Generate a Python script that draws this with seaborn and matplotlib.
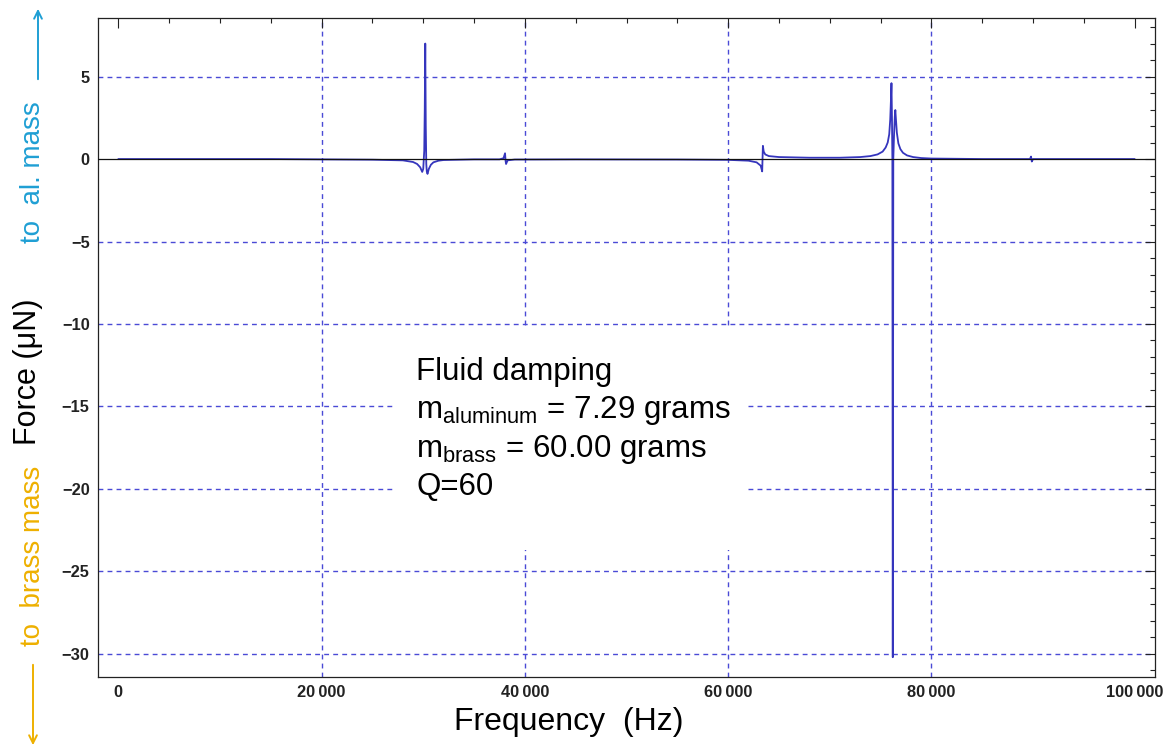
import numpy as np
import pandas as pd
import matplotlib
matplotlib.use("Agg")
import matplotlib.pyplot as plt
from matplotlib.ticker import MultipleLocator, FixedLocator
from matplotlib.patches import Rectangle, FancyArrowPatch
import seaborn as sns

# ---------------- data ----------------
freq_hz = [0, 15000, 20000, 25000, 28000, 29000, 29400, 29700, 29900, 30000,
           30100, 30150, 30200, 30250, 30300, 30350, 30420, 30550, 30750, 31000,
           31500, 32000, 35000, 37500, 37900, 38050, 38100, 38150, 38300, 39000,
           45000, 55000, 60000, 62000, 62800, 63200, 63350, 63420, 63500, 63650,
           64000, 65000, 68000, 71000, 73000, 74000, 74700, 75200, 75500, 75700,
           75850, 75950, 76020, 76070, 76120, 76160, 76200, 76250, 76320, 76400,
           76450, 76500, 76600, 76750, 76950, 77200, 77600, 78200, 79000, 80000,
           85000, 89700, 89800, 89880, 90000, 100000]
force_uN = [0.0, 0.0, -0.02, -0.04, -0.08, -0.18, -0.3, -0.5, -0.78, -0.6,
            0.5, 3.0, 7.0, 2.0, -0.3, -0.75, -0.9, -0.6, -0.35, -0.2,
            -0.1, -0.06, -0.02, -0.02, 0.05, 0.35, -0.1, -0.3, -0.08, -0.03,
            -0.02, -0.03, -0.05, -0.1, -0.2, -0.4, -0.75, 0.8, 0.45, 0.28,
            0.18, 0.12, 0.08, 0.08, 0.12, 0.18, 0.28, 0.45, 0.7, 1.0,
            1.5, 2.4, 3.6, 4.6, 2.5, 0.0, -30.2, 0.0, 1.4, 2.6,
            2.97, 2.5, 1.6, 0.95, 0.6, 0.38, 0.22, 0.12, 0.06, 0.03,
            0.0, 0.0, 0.15, -0.15, 0.0, 0.0]

x_ticks = [0, 20000, 40000, 60000, 80000, 100000]
x_tick_labels = ["0", "20\u2009000", "40\u2009000", "60\u2009000", "80\u2009000", "100\u2009000"]
y_ticks = [5, 0, -5, -10, -15, -20, -25, -30]
y_tick_labels = ["5", "0", "\u22125", "\u221210", "\u221215", "\u221220", "\u221225", "\u221230"]

annotation_lines = ["Fluid damping",
                    r"m$_{\mathrm{aluminum}}$ = 7.29 grams",
                    r"m$_{\mathrm{brass}}$ = 60.00 grams",
                    "Q=60"]

df = pd.DataFrame({"Frequency": freq_hz, "Force": force_uN})

# ---------------- style ----------------
sns.set_theme(style="white")
plt.rcParams["font.family"] = ["Liberation Sans", "DejaVu Sans"]
plt.rcParams["mathtext.fontset"] = "custom"
plt.rcParams["mathtext.rm"] = "Liberation Sans"
plt.rcParams["mathtext.it"] = "Liberation Sans:italic"
plt.rcParams["mathtext.bf"] = "Liberation Sans:bold"

fig = plt.figure(figsize=(11.64, 7.52), dpi=100)
ax = fig.add_axes([98 / 1164, 1 - 677 / 752, 1057 / 1164, 659 / 752])

sns.lineplot(data=df, x="Frequency", y="Force", ax=ax, color="#3535bd",
             linewidth=1.3, estimator=None, sort=False, zorder=3)
ax.axhline(0, color="#111111", linewidth=0.9, zorder=4)

ax.set_xlim(-2000, 102000)
ax.set_ylim(-31.4, 8.55)

ax.xaxis.set_major_locator(FixedLocator(x_ticks))
ax.yaxis.set_major_locator(FixedLocator(y_ticks))
ax.set_xticklabels(x_tick_labels)
ax.set_yticklabels(y_tick_labels)
ax.xaxis.set_minor_locator(MultipleLocator(5000))
ax.yaxis.set_minor_locator(MultipleLocator(1))
ax.tick_params(which="both", direction="in", top=True, right=True,
               colors="#222222", width=0.8)
ax.tick_params(which="major", length=7, labelsize=11.8, pad=6)
ax.tick_params(which="minor", length=3.5)
for lab in ax.get_xticklabels() + ax.get_yticklabels():
    lab.set_fontweight("bold")
    lab.set_color("#222222")

# grid
ax.grid(True, which="major", linestyle=(0, (3.5, 3)), color="#4a4ad6",
        linewidth=1.0)
ax.set_axisbelow(True)
xg = ax.xaxis.get_gridlines()
xg[0].set_visible(False)
xg[-1].set_visible(False)
yg = ax.yaxis.get_gridlines()
yg[1].set_visible(False)

for s in ax.spines.values():
    s.set_color("#222222")
    s.set_linewidth(0.9)

ax.set_xlabel("")
ax.set_ylabel("")

# white inset behind the annotation
x0 = (395 - 98) / 1057
x1 = (745 - 98) / 1057
yt = 1 - (328 - 18) / 659
yb = 1 - (550 - 18) / 659
ax.add_patch(Rectangle((x0, yb), x1 - x0, yt - yb, transform=ax.transAxes,
                       facecolor="white", edgecolor="none", zorder=1))

baselines_px = [380, 418, 457, 495]
for line, b in zip(annotation_lines, baselines_px):
    ax.text((416 - 98) / 1057, 1 - (b - 18) / 659, line, transform=ax.transAxes,
            fontsize=22.5, va="baseline", ha="left", color="black", zorder=6)

# axis labels
fig.text((447 + 690) / 2 / 1164, 1 - 722 / 752, "Frequency  (Hz)",
         fontsize=23, ha="center", va="center", color="black")
fig.text(28 / 1164, 1 - 372 / 752, "Force (\u03bcN)", rotation=90,
         fontsize=22, ha="center", va="center", color="black")
fig.text(33 / 1164, 1 - 172 / 752, "to  al. mass", rotation=90,
         fontsize=20, ha="center", va="center", color="#1f9fd4")
fig.text(33 / 1164, 1 - 556 / 752, "to  brass mass", rotation=90,
         fontsize=20, ha="center", va="center", color="#eeb000")

# direction arrows
fig.patches.append(FancyArrowPatch(
    (38 / 1164, 1 - 82 / 752), (38 / 1164, 1 - 6 / 752),
    transform=fig.transFigure, arrowstyle="->", mutation_scale=14,
    color="#1f9fd4", linewidth=1.4))
fig.patches.append(FancyArrowPatch(
    (33 / 1164, 1 - 662 / 752), (33 / 1164, 1 - 748 / 752),
    transform=fig.transFigure, arrowstyle="->", mutation_scale=14,
    color="#eeb000", linewidth=1.4))

fig.savefig("out.png", dpi=100, facecolor="white")
